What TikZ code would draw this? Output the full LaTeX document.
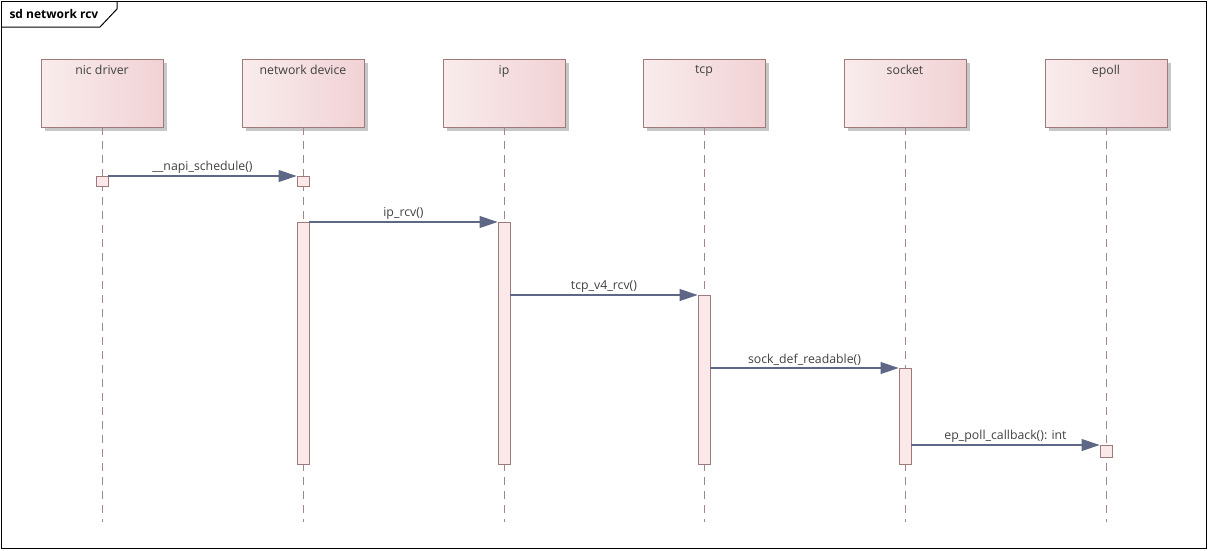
\documentclass[tikz,border=0pt]{standalone}
\usepackage{fontspec}
\setmainfont{Open Sans}
\usetikzlibrary{arrows.meta,shadows}

\definecolor{headleft}{HTML}{F9ECEC}
\definecolor{headright}{HTML}{F1D2D5}
\definecolor{headline}{HTML}{9E7A7A}
\definecolor{actfill}{HTML}{FBE9E9}
\definecolor{lifecol}{HTML}{A08888}
\definecolor{msgcol}{HTML}{5E6886}
\definecolor{txtcol}{HTML}{404040}

\begin{document}
\begin{tikzpicture}[
  x=1pt, y=-1pt,
  font=\fontsize{12.3}{14}\selectfont,
  head/.style={draw=headline, line width=0.9pt, left color=headleft, right color=headright,
    minimum width=122, minimum height=68, inner sep=0,
    drop shadow={shadow xshift=3.5pt, shadow yshift=-3.5pt, fill=black!22, opacity=1}},
  headtext/.style={anchor=north, text=txtcol, inner sep=6.5pt},
  act/.style={draw=headline, line width=0.9pt, fill=actfill, minimum width=12, inner sep=0, anchor=north},
  life/.style={draw=lifecol, line width=1pt, dash pattern=on 8pt off 6pt},
  msg/.style={draw=msgcol, line width=1.1pt, -{Triangle[length=18pt, width=12pt]}},
  lbl/.style={above, text=txtcol, inner sep=2pt},
  title/.style={font=\fontsize{12}{14}\selectfont\bfseries, anchor=west},
]
  \useasboundingbox (0,0) rectangle (1208,550);

  % ===== frame =====
  \draw[line width=1pt] (1.5,1.5) rectangle (1206,548);
  \node[title] (sd) at (6,14) {sd network rcv};
  \draw[line width=1pt] (117,1.5) -- (117,9) -- (100,27) -- (1.5,27);

  % ===== lifeline heads =====
  \node[head, label={[headtext]north:nic driver}] (nic) at (102,93) {};
  \node[head, label={[headtext]north:network device}] (dev) at (303,93) {};
  \node[head, label={[headtext]north:ip}] (ip) at (504,93) {};
  \node[head, label={[headtext]north:tcp}] (tcp) at (704,93) {};
  \node[head, label={[headtext]north:socket}] (sock) at (905,93) {};
  \node[head, label={[headtext]north:epoll}] (epoll) at (1106,93) {};

  \coordinate (nicEnd) at (102,522);
  \coordinate (devEnd) at (303,522);
  \coordinate (ipEnd) at (504,522);
  \coordinate (tcpEnd) at (704,522);
  \coordinate (sockEnd) at (905,522);
  \coordinate (epollEnd) at (1106,522);

  \draw[life] (nic.south) -- (nicEnd);
  \draw[life] (dev.south) -- (devEnd);
  \draw[life] (ip.south) -- (ipEnd);
  \draw[life] (tcp.south) -- (tcpEnd);
  \draw[life] (sock.south) -- (sockEnd);
  \draw[life] (epoll.south) -- (epollEnd);

  % ===== activations =====
  \node[act, minimum height=10] (nicA) at (102,176) {};
  \node[act, minimum height=10] (devA) at (303,176) {};
  \node[act, minimum height=242] (devB) at (303,222) {};
  \node[act, minimum height=242] (ipA) at (504,222) {};
  \node[act, minimum height=169] (tcpA) at (704,295) {};
  \node[act, minimum height=96] (sockA) at (905,368) {};
  \node[act, minimum height=12] (epollA) at (1106,445) {};

  % ===== messages =====
  \draw[msg] (nicA.north east) -- node[lbl] {\_\_napi\_schedule()} (devA.north west);
  \draw[msg] (devB.north east) -- node[lbl] {ip\_rcv()} (ipA.north west);
  \draw[msg] (ipA.east |- tcpA.north) -- node[lbl] {tcp\_v4\_rcv()} (tcpA.north west);
  \draw[msg] (tcpA.east |- sockA.north) -- node[lbl] {sock\_def\_readable()} (sockA.north west);
  \draw[msg] (sockA.east |- epollA.north) -- node[lbl] {ep\_poll\_callback(): int} (epollA.north west);
\end{tikzpicture}
\end{document}
